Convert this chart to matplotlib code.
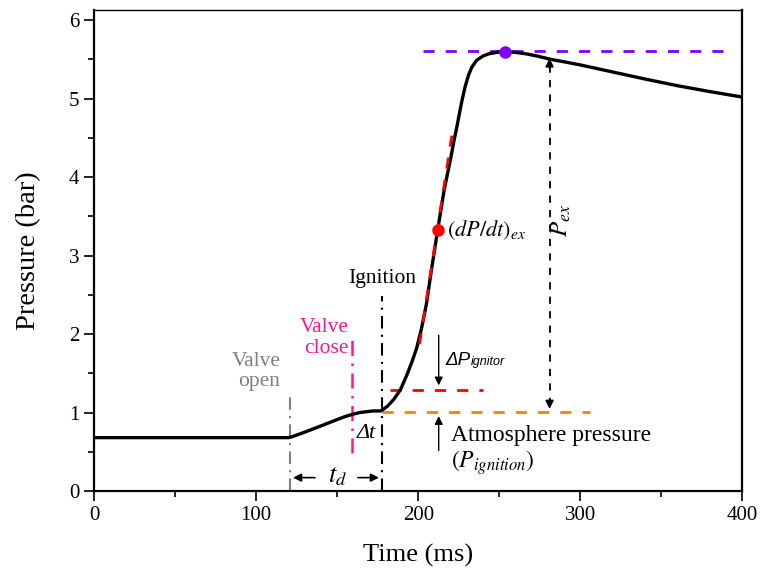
import matplotlib
matplotlib.use("Agg")
import matplotlib.pyplot as plt

plt.rcParams['font.family'] = ['Liberation Serif', 'DejaVu Serif']
plt.rcParams['mathtext.fontset'] = 'stix'

# pressure trace
time_ms = [0, 120, 122, 126, 130, 135, 140, 145, 150, 155, 160, 164, 168, 172, 177,
           181, 185, 189, 193, 196, 199, 202, 205, 208, 212, 216, 220, 222, 224, 225,
           227, 229, 231, 233, 236, 240, 244, 250, 254, 260, 267, 274, 282, 290, 300,
           320, 340, 360, 380, 400]
pressure = [0.68, 0.68, 0.69, 0.72, 0.75, 0.79, 0.83, 0.87, 0.91, 0.95, 0.98, 1.00, 1.01, 1.02, 1.02,
            1.08, 1.17, 1.29, 1.48, 1.64, 1.82, 2.07, 2.38, 2.80, 3.33, 3.84, 4.24, 4.46, 4.66, 4.77,
            4.98, 5.16, 5.30, 5.40, 5.49, 5.545, 5.575, 5.595, 5.60, 5.59, 5.57, 5.54, 5.50, 5.47, 5.43,
            5.34, 5.25, 5.165, 5.09, 5.02]

t_open = 121
t_close = 159
t_ign = 177.5
p_atm = 1.01
p_ign = 1.29
p_max = 5.61
t_max = 253.7
dpdt_pt = (212, 3.33)
tangent_t = [200.8, 221.4]
tangent_p = [1.87, 4.62]
x_pex = 281

fig = plt.figure(figsize=(7.62, 5.76), dpi=100)
ax = fig.add_axes([0.1234, 0.1476, 0.851, 0.835])

ax.plot(time_ms, pressure, color='black', lw=2.4, zorder=5)

# event lines
ax.plot([t_open, t_open], [0, 1.28], color='#808080', lw=1.5, ls=(0, (6, 3, 1, 3)))
ax.plot([t_close, t_close], [0.48, 2.0], color='#FF1493', lw=1.8, ls=(0, (6, 3, 1, 3)))
ax.plot([t_ign, t_ign], [0, 2.49], color='black', lw=1.5, ls=(0, (6, 3, 1, 3)))

ax.text(115, 1.52, 'Valve\nopen', color='#808080', fontsize=15.5, ha='right', va='center', linespacing=1.1)
ax.text(157, 1.95, 'Valve\nclose', color='#FF1493', fontsize=15.5, ha='right', va='center', linespacing=1.1)
ax.text(t_ign, 2.71, 'Ignition', fontsize=15.5, ha='center', va='center')
ax.text(168, 0.73, 'Δt', fontsize=16, style='italic', ha='center', va='center')

# t_d
ax.annotate('', xy=(t_open, 0.17), xytext=(138, 0.17),
            arrowprops=dict(arrowstyle='-|>', color='black', lw=1.2, mutation_scale=12))
ax.annotate('', xy=(t_ign, 0.17), xytext=(161, 0.17),
            arrowprops=dict(arrowstyle='-|>', color='black', lw=1.2, mutation_scale=12))
ax.text(150, 0.18, r'$t_d$', fontsize=19, ha='center', va='center')

# reference levels
ax.plot([182.7, 240], [p_ign, p_ign], color='#FF0000', lw=2, dashes=(4, 4))
ax.plot([t_ign, 306], [p_atm, p_atm], color='#FF8000', lw=2, dashes=(4, 4))
ax.plot([203, 388], [p_max, p_max], color='#8000FF', lw=2, dashes=(4, 4))
ax.plot(tangent_t, tangent_p, color='#FF0000', lw=2, dashes=(4, 4), zorder=6)

ax.plot(*dpdt_pt, 'o', color='#FF0000', ms=8, zorder=7)
ax.plot(t_max, 5.60, 'o', color='#8000FF', ms=8, zorder=7)

# delta P ignitor arrows
ax.annotate('', xy=(212.6, 1.31), xytext=(212.6, 2.02),
            arrowprops=dict(arrowstyle='-|>', color='black', lw=1, mutation_scale=12))
ax.annotate('', xy=(212.6, 0.99), xytext=(212.6, 0.48),
            arrowprops=dict(arrowstyle='-|>', color='black', lw=1, mutation_scale=12))
dp = ax.text(216.5, 1.66, 'ΔP', fontsize=13.5, style='italic', family='Liberation Sans',
             ha='left', va='center')
ax.annotate('ignitor', xy=(1, 0), xycoords=dp, xytext=(0.5, 1), textcoords='offset points',
            fontsize=9, style='italic', family='Liberation Sans', ha='left', va='bottom')

ax.text(220, 0.71, 'Atmosphere pressure', fontsize=17, ha='left', va='center')
ax.text(220, 0.36, r'$(P_{ignition})$', fontsize=17, ha='left', va='center')

# Pex
ax.plot([x_pex, x_pex], [1.1, 5.45], color='black', lw=1.3, dashes=(4, 4))
ax.annotate('', xy=(x_pex, p_atm), xytext=(x_pex, 1.2),
            arrowprops=dict(arrowstyle='-|>', color='black', lw=1.2, mutation_scale=12))
ax.annotate('', xy=(x_pex, 5.55), xytext=(x_pex, 5.35),
            arrowprops=dict(arrowstyle='-|>', color='black', lw=1.2, mutation_scale=12))
ax.text(288, 3.45, r'$P_{ex}$', fontsize=18, rotation=90, ha='center', va='center')
ax.text(218, 3.33, r'$(dP/dt)_{ex}$', fontsize=16, ha='left', va='center')

ax.set_xlim(0, 400)
ax.set_ylim(0, 6.13)
ax.set_xticks([0, 100, 200, 300, 400])
ax.set_xticks([50, 150, 250, 350], minor=True)
ax.set_yticks([0, 1, 2, 3, 4, 5, 6])
ax.set_yticks([0.5, 1.5, 2.5, 3.5, 4.5, 5.5], minor=True)
ax.tick_params(which='major', direction='out', length=7, width=1.2, labelsize=15)
ax.tick_params(which='minor', direction='out', length=4, width=1.2)
for s in ['left', 'bottom', 'right']:
    ax.spines[s].set_linewidth(1.6)
ax.spines['top'].set_linewidth(1.0)

ax.set_xlabel('Time (ms)', fontsize=19, labelpad=14)
ax.set_ylabel('Pressure (bar)', fontsize=20.5, labelpad=20)

fig.savefig('out.png', dpi=100)
